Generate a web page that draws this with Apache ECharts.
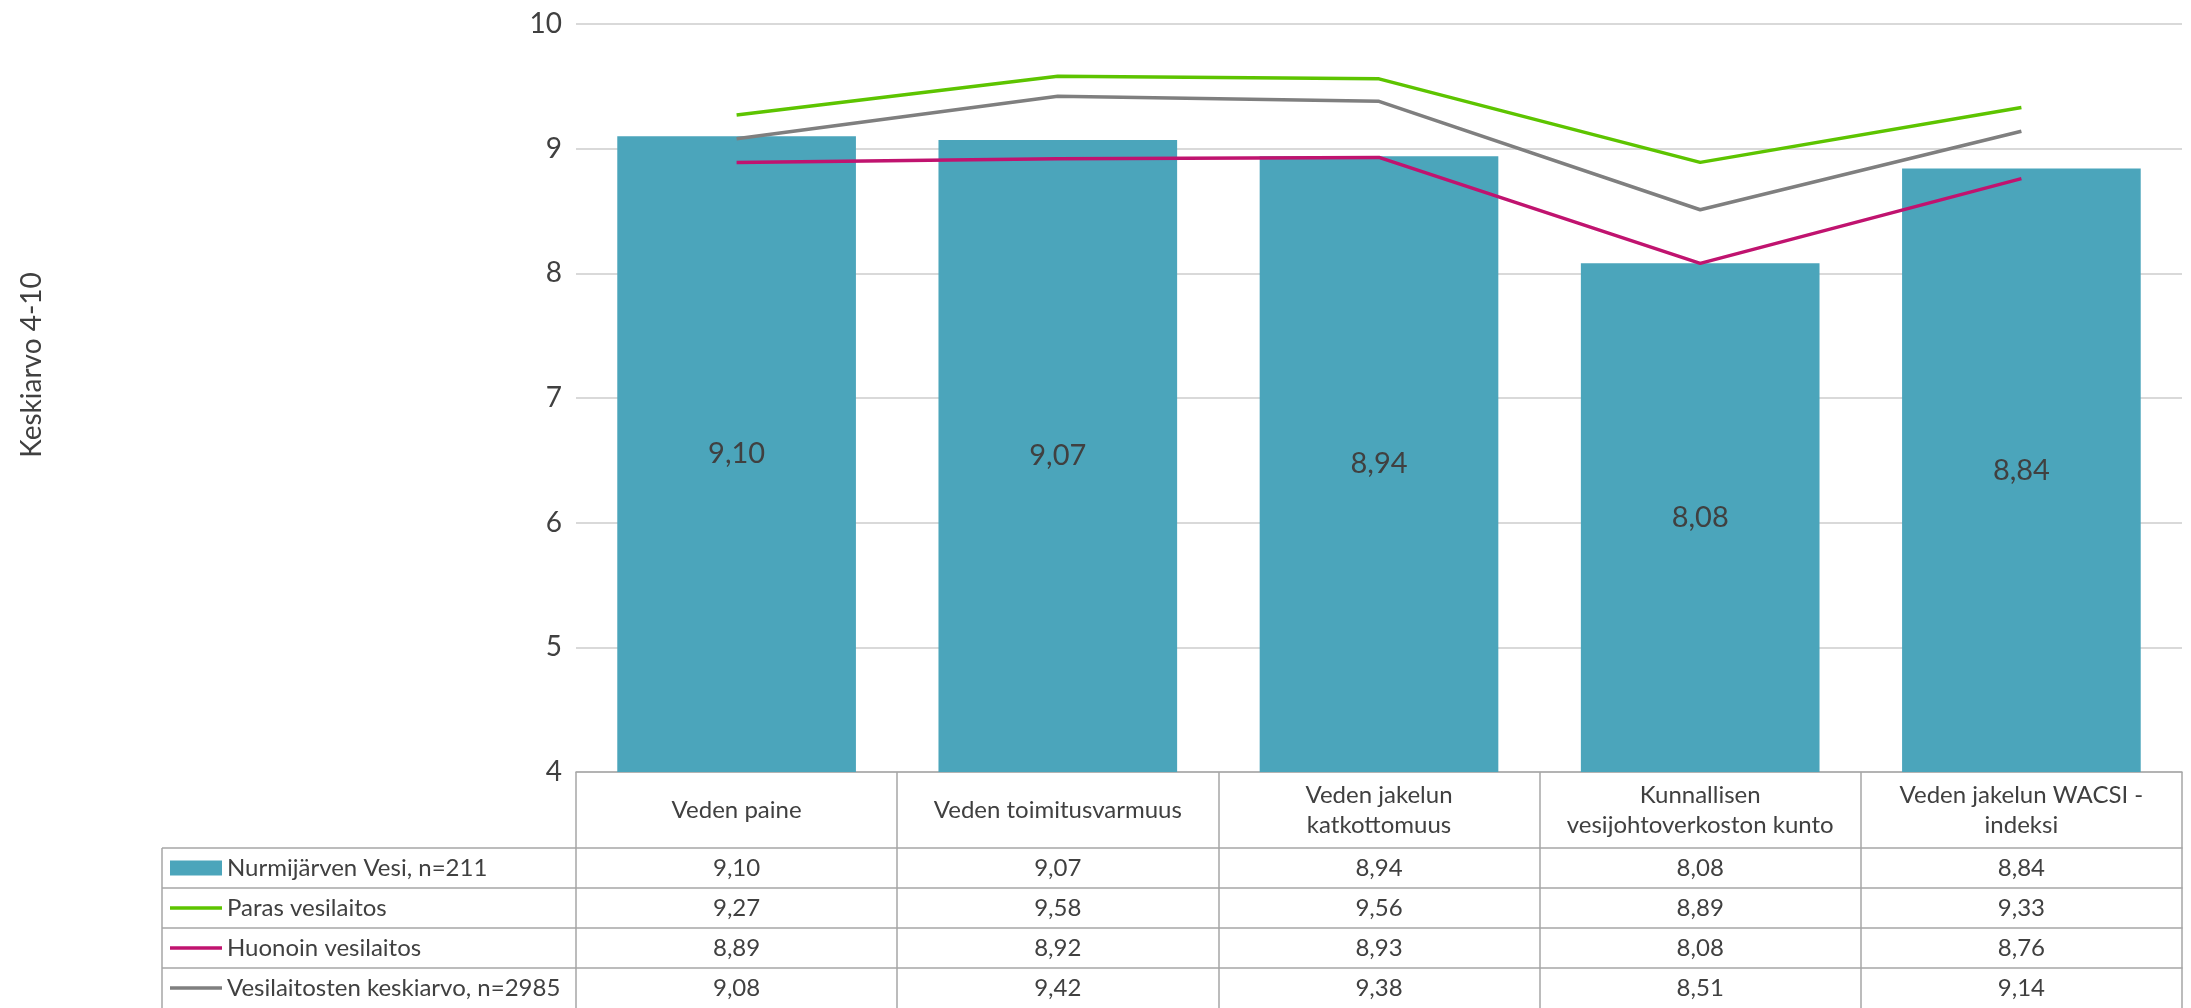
<!DOCTYPE html>
<html>
<head>
<meta charset="utf-8">
<script src="https://cdn.jsdelivr.net/npm/echarts@6/dist/echarts.min.js"></script>
<style>
html,body{margin:0;padding:0;background:#fff;}
#chart{width:2191px;height:1008px;}
</style>
</head>
<body>
<div id="chart"></div>
<script>
var categories = ['Veden paine', 'Veden toimitusvarmuus', 'Veden jakelun\nkatkottomuus', 'Kunnallisen\nvesijohtoverkoston kunto', 'Veden jakelun WACSI -\nindeksi'];
var seriesNames = ['Nurmijärven Vesi, n=211', 'Paras vesilaitos', 'Huonoin vesilaitos', 'Vesilaitosten keskiarvo, n=2985'];
var nurmijarvi = [9.10, 9.07, 8.94, 8.08, 8.84];
var paras = [9.27, 9.58, 9.56, 8.89, 9.33];
var huonoin = [8.89, 8.92, 8.93, 8.08, 8.76];
var keskiarvo = [9.08, 9.42, 9.38, 8.51, 9.14];
var yMin = 4, yMax = 10, yStep = 1;
var yAxisTitle = 'Keskiarvo 4-10';

var colors = ['#4BA5BB', '#5DC400', '#C0136F', '#7F7F7F'];
var tableRows = [nurmijarvi, paras, huonoin, keskiarvo];
var FONT = 'Lato, "Open Sans", sans-serif';
var TXT = '#404040';
var LINE = '#A6A6A6';
function fmt(v) { return v.toFixed(2).replace('.', ','); }

var gridLeft = 576, gridRight = 9, gridTop = 24, gridBottom = 236;
var headerH = 76, rowH = 40;
var H = 1008;
var tableTop = H - gridBottom;           // 772
var legendLeft = 162;

var xAxes = [{
  type: 'category', data: categories, position: 'bottom', offset: 0,
  axisLine: { show: true, lineStyle: { color: LINE, width: 1.5 } },
  axisTick: { show: true, length: gridBottom, interval: 0, lineStyle: { color: LINE, width: 1.5 } },
  axisLabel: { interval: 0, margin: headerH / 2, verticalAlign: 'middle', fontSize: 24, lineHeight: 30, color: TXT, fontFamily: FONT },
  splitLine: { show: false }
}];
tableRows.forEach(function (row, k) {
  xAxes.push({
    type: 'category', data: categories, position: 'bottom', offset: headerH + rowH * k,
    axisLine: { show: true, lineStyle: { color: LINE, width: 1.5 } },
    axisTick: { show: false },
    axisLabel: { interval: 0, margin: rowH / 2, verticalAlign: 'middle', fontSize: 24, color: TXT, fontFamily: FONT,
      formatter: function (v, i) { return fmt(row[i]); } },
    splitLine: { show: false }
  });
});

var graphics = [];
graphics.push({ type: 'line', shape: { x1: legendLeft, y1: tableTop + headerH, x2: legendLeft, y2: H }, style: { stroke: LINE, lineWidth: 1.5 } });
for (var k = 0; k < 4; k++) {
  var yy = tableTop + headerH + rowH * k;
  graphics.push({ type: 'line', shape: { x1: legendLeft, y1: yy, x2: gridLeft, y2: yy }, style: { stroke: LINE, lineWidth: 1.5 } });
}
graphics.push({ type: 'text', x: 32, y: 365, rotation: Math.PI / 2,
  style: { text: yAxisTitle, fontSize: 28, fill: TXT, fontFamily: FONT, align: 'center', verticalAlign: 'middle' } });

var lineIcon = 'path://M0,0H52V3.5H0Z';
var icons = ['rect', lineIcon, lineIcon, lineIcon];
var legends = seriesNames.map(function (nm, k) {
  return {
    orient: 'vertical', left: legendLeft + 8, top: tableTop + headerH + rowH * k + (rowH - 24) / 2,
    itemWidth: 52, itemHeight: 15, padding: 0, selectedMode: false,
    textStyle: { fontSize: 24, lineHeight: 24, color: TXT, fontFamily: FONT },
    data: [{ name: nm, icon: icons[k] }]
  };
});

var option = {
  animation: false,
  textStyle: { fontFamily: FONT },
  grid: { left: gridLeft, right: gridRight, top: gridTop, bottom: gridBottom, containLabel: false },
  legend: legends,
  xAxis: xAxes,
  yAxis: {
    type: 'value', min: yMin, max: yMax, interval: yStep,
    axisLine: { show: false }, axisTick: { show: false },
    axisLabel: { fontSize: 28, color: TXT, margin: 14, fontFamily: FONT },
    splitLine: { lineStyle: { color: '#D9D9D9', width: 2 } }
  },
  graphic: graphics,
  series: [
    { name: seriesNames[0], type: 'bar', data: nurmijarvi, xAxisIndex: 0, barCategoryGap: '25.7%',
      itemStyle: { color: colors[0] },
      label: { show: true, position: 'inside', fontSize: 29, color: TXT, fontFamily: FONT, formatter: function (p) { return fmt(p.value); } } },
    { name: seriesNames[1], type: 'line', data: paras, xAxisIndex: 0, symbol: 'none', lineStyle: { color: colors[1], width: 3.5 }, itemStyle: { color: colors[1] }, z: 3 },
    { name: seriesNames[2], type: 'line', data: huonoin, xAxisIndex: 0, symbol: 'none', lineStyle: { color: colors[2], width: 3.5 }, itemStyle: { color: colors[2] }, z: 3 },
    { name: seriesNames[3], type: 'line', data: keskiarvo, xAxisIndex: 0, symbol: 'none', lineStyle: { color: colors[3], width: 3.5 }, itemStyle: { color: colors[3] }, z: 3 }
  ]
};
var chart = echarts.init(document.getElementById('chart'), null, { renderer: 'canvas' });
chart.setOption(option);
</script>
</body>
</html>
